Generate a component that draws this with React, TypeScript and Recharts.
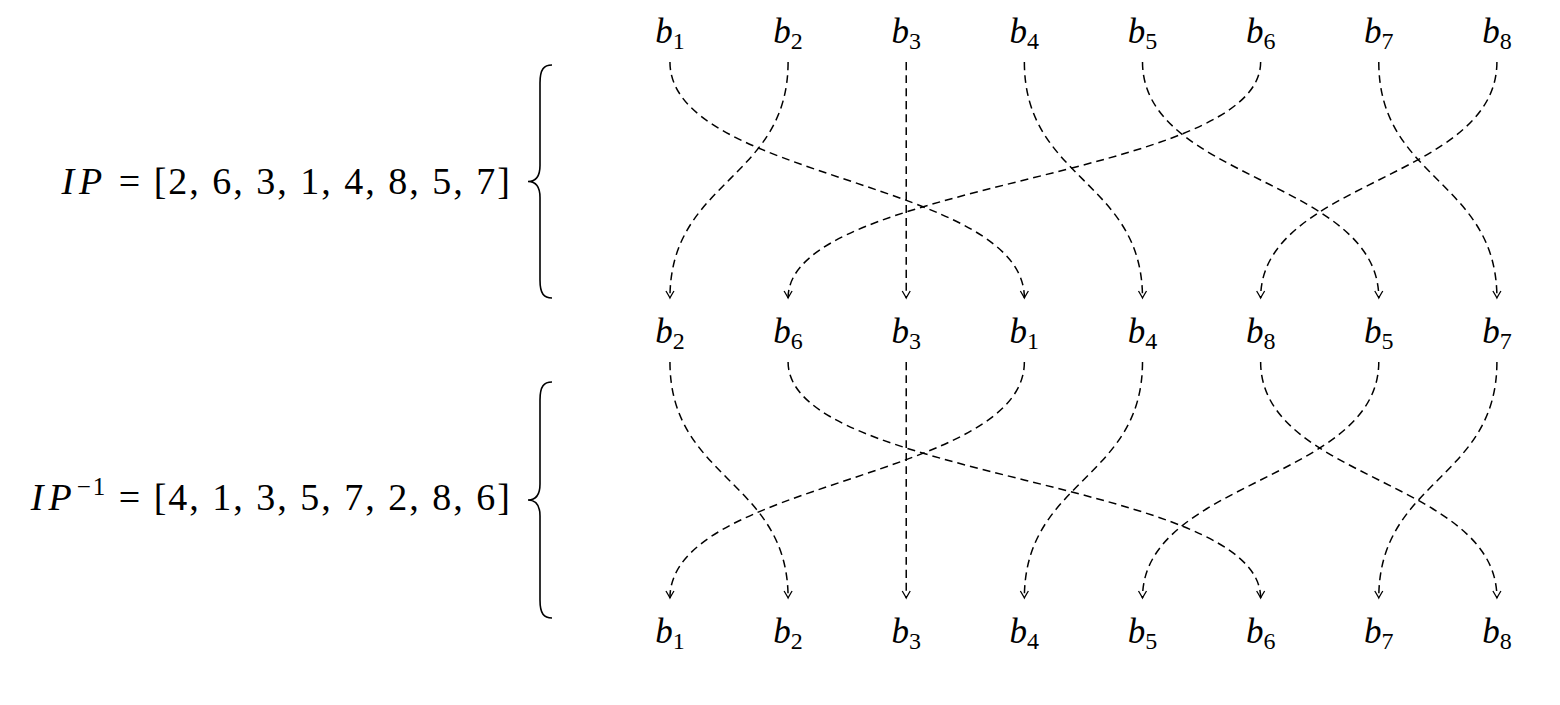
import { ComposedChart, Line, Scatter, XAxis, YAxis } from 'recharts'

// permutation tables
const IP = [2, 6, 3, 1, 4, 8, 5, 7]
const COLS = [1, 2, 3, 4, 5, 6, 7, 8]

// row positions (y in pixels, top down)
const ROW_LABEL_Y = [32, 332, 632]
const ARROW_TOP = [62, 362]
const ARROW_BOTTOM = [298, 598]

const topLabels = COLS.map((c) => ({ x: c, y: ROW_LABEL_Y[0], sub: c }))
const midLabels = IP.map((b, i) => ({ x: i + 1, y: ROW_LABEL_Y[1], sub: b }))
const bottomLabels = COLS.map((c) => ({ x: c, y: ROW_LABEL_Y[2], sub: c }))

// b_k at top goes to the column where it sits in the middle row
const topArrows = COLS.map((k) => [
  { x: k, y: ARROW_TOP[0] },
  { x: IP.indexOf(k) + 1, y: ARROW_BOTTOM[0] },
])
// middle column j (holding b_IP[j]) goes to bottom column IP[j]
const bottomArrows = IP.map((b, j) => [
  { x: j + 1, y: ARROW_TOP[1] },
  { x: b, y: ARROW_BOTTOM[1] },
])

const W = 1560
const H = 705
const serif = '"Liberation Serif", "DejaVu Serif", serif'

const ArrowTip = (props: any) => {
  const { cx, cy, index } = props
  if (index !== 1) return <g key={`d${index}`} />
  return (
    <path
      key={`d${index}`}
      d={`M${cx - 4},${cy - 7} Q${cx - 1},${cy - 2} ${cx},${cy} Q${cx + 1},${cy - 2} ${cx + 4},${cy - 7}`}
      fill="none"
      stroke="#000"
      strokeWidth={1.3}
    />
  )
}

const BLabel = (props: any) => {
  const { cx, cy, payload } = props
  return (
    <text x={cx} y={cy + 11} textAnchor="middle" fontFamily={serif} fontSize={35} fill="#000">
      <tspan fontStyle="italic">b</tspan>
      <tspan fontSize={24} dy={6}>{payload.sub}</tspan>
    </text>
  )
}

function Brace({ top, bottom }: { top: number; bottom: number }) {
  const mid = (top + bottom) / 2
  const x = 540
  return (
    <path
      d={`M552,${top} C544,${top} ${x},${top + 4} ${x},${top + 18} L${x},${mid - 16} C${x},${mid - 4} 535,${mid} 528,${mid} C535,${mid} ${x},${mid + 4} ${x},${mid + 16} L${x},${bottom - 18} C${x},${bottom - 4} 544,${bottom} 552,${bottom}`}
      fill="none"
      stroke="#000"
      strokeWidth={1.6}
    />
  )
}

export default function App() {
  const arrows = [...topArrows, ...bottomArrows]
  return (
    <div style={{ position: 'absolute', left: 0, top: 0, width: W, height: H, background: '#fff' }}>
      <ComposedChart width={W} height={H} margin={{ top: 0, right: 0, bottom: 0, left: 0 }}>
        <XAxis dataKey="x" type="number" domain={[-4.671, 8.534]} hide allowDataOverflow />
        <YAxis dataKey="y" type="number" domain={[0, H]} reversed hide allowDataOverflow />
        {arrows.map((d, i) => (
          <Line
            key={i}
            data={d}
            dataKey="y"
            type="bumpY"
            stroke="#000"
            strokeWidth={1.5}
            strokeDasharray="8 5"
            dot={ArrowTip}
            activeDot={false}
            isAnimationActive={false}
          />
        ))}
        <Scatter data={[...topLabels, ...midLabels, ...bottomLabels]} dataKey="y" shape={BLabel} isAnimationActive={false} />
      </ComposedChart>
      <svg width={W} height={H} style={{ position: 'absolute', left: 0, top: 0, pointerEvents: 'none' }}>
        <Brace top={65} bottom={298} />
        <Brace top={382} bottom={618} />
        <text x={512} y={194} textAnchor="end" fontFamily={serif} fontSize={38} letterSpacing={2}>
          <tspan fontStyle="italic" letterSpacing={5}>IP</tspan> =  [2, 6, 3, 1, 4, 8, 5, 7]
        </text>
        <text x={512} y={510} textAnchor="end" fontFamily={serif} fontSize={38} letterSpacing={2}>
          <tspan fontStyle="italic" letterSpacing={5}>IP</tspan>
          <tspan fontSize={25} dy={-15}>−1</tspan>
          <tspan dy={15}> =  [4, 1, 3, 5, 7, 2, 8, 6]</tspan>
        </text>
      </svg>
    </div>
  )
}
